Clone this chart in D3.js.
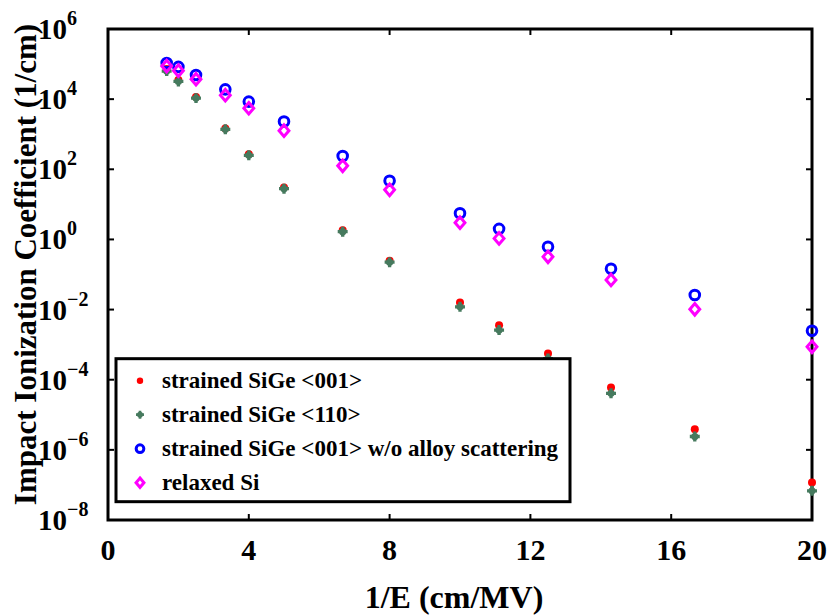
<!DOCTYPE html>
<html>
<head>
<meta charset="utf-8">
<script src="https://cdn.jsdelivr.net/npm/d3@7"></script>
<style>
  body { margin: 0; background: #fff; }
  svg { display: block; font-family: "Liberation Serif", "Times New Roman", serif; font-weight: bold; }
</style>
</head>
<body>
<svg width="830" height="615"></svg>
<script>
// 1/E values (cm/MV)
const invE = [1.667, 2, 2.5, 3.333, 4, 5, 6.667, 8, 10, 11.11, 12.5, 14.29, 16.67, 20]

// impact ionization coefficient (1/cm)
const sige001 = [7.2e4, 3.5e4, 1.15e4, 1.45e3, 267, 30, 1.82, 0.247, 0.0158, 3.6e-3, 5.6e-4, 6.0e-5, 3.9e-6, 1.17e-7]
const sige110 = [6.3e4, 3.2e4, 1.07e4, 1.38e3, 250, 28, 1.66, 0.224, 0.012, 2.6e-3, 4.0e-4, 4.1e-5, 2.4e-6, 6.8e-8]
const sige001NoAlloy = [1.07e5, 8.3e4, 4.9e4, 1.9e4, 8.5e3, 2.3e3, 240, 47, 5.6, 2.0, 0.62, 0.146, 0.026, 2.5e-3]
const relaxedSi = [8.8e4, 6.5e4, 3.7e4, 1.3e4, 5.5e3, 1.26e3, 126, 26, 3.0, 1.07, 0.32, 0.07, 0.0102, 8.7e-4]

const xTicks = [0, 4, 8, 12, 16, 20]
const yExps = [6, 4, 2, 0, -2, -4, -6, -8]

const seriesNames = ['strained SiGe <001>', 'strained SiGe <110>', 'strained SiGe <001> w/o alloy scattering', 'relaxed Si']

const svg = d3.select('svg')
const margin = {top: 29, right: 18, bottom: 95, left: 108}
const width = 830 - margin.left - margin.right
const height = 615 - margin.top - margin.bottom
const g = svg.append('g').attr('transform', 'translate(' + margin.left + ',' + margin.top + ')')

const x = d3.scaleLinear().domain([0, 20]).range([0, width])
const y = d3.scaleLog().domain([1e-8, 1e6]).range([height, 0])

// ticks (inward, all four sides)
const tickLen = 6
const axes = g.append('g').attr('stroke', '#000').attr('stroke-width', 2)
xTicks.slice(1, -1).forEach(t => {
  axes.append('line').attr('x1', x(t)).attr('x2', x(t)).attr('y1', height).attr('y2', height - tickLen)
  axes.append('line').attr('x1', x(t)).attr('x2', x(t)).attr('y1', 0).attr('y2', tickLen)
})
yExps.slice(1, -1).forEach(e => {
  const v = Math.pow(10, e)
  axes.append('line').attr('x1', 0).attr('x2', tickLen).attr('y1', y(v)).attr('y2', y(v))
  axes.append('line').attr('x1', width).attr('x2', width - tickLen).attr('y1', y(v)).attr('y2', y(v))
})

// frame
g.append('rect')
  .attr('width', width).attr('height', height)
  .attr('fill', 'none').attr('stroke', '#000').attr('stroke-width', 3)

// tick labels
g.append('g').selectAll('text')
  .data(xTicks)
  .enter().append('text')
    .attr('x', d => x(d))
    .attr('y', height + 40)
    .attr('text-anchor', 'middle')
    .attr('font-size', 30)
    .text(d => d)

const yLab = g.append('g').selectAll('text')
  .data(yExps)
  .enter().append('text')
    .attr('x', -70)
    .attr('y', d => y(Math.pow(10, d)) + 10)
    .attr('font-size', 29)
yLab.append('tspan').text('10')
yLab.append('tspan')
  .attr('font-size', 20)
  .attr('dy', -14)
  .text(d => d < 0 ? '\u2212' + (-d) : d)

// axis titles
svg.append('text')
  .attr('x', margin.left + width / 2 - 6)
  .attr('y', 608)
  .attr('text-anchor', 'middle')
  .attr('font-size', 32)
  .text('1/E (cm/MV)')

svg.append('text')
  .attr('transform', 'translate(36,' + (margin.top + height / 2 - 10) + ') rotate(-90)')
  .attr('text-anchor', 'middle')
  .attr('font-size', 31)
  .text('Impact Ionization Coefficient (1/cm)')

// markers
function drawMarker (sel, k, scale) {
  const s = scale || 1
  if (k === 0) {
    sel.append('circle').attr('r', 4 * s).attr('fill', '#ff0000')
  } else if (k === 1) {
    sel.append('circle').attr('r', 3.6 * s).attr('fill', '#467a5e')
    sel.append('path')
      .attr('d', d3.symbol().type(d3.symbolCross).size(55 * s * s)())
      .attr('fill', '#467a5e')
  } else if (k === 2) {
    sel.append('circle').attr('r', 4.8 * s).attr('fill', 'none')
      .attr('stroke', '#0000ff').attr('stroke-width', 3)
  } else {
    const r = 5.8 * s
    sel.append('path')
      .attr('d', 'M0,' + (-r) + 'L' + (r * 0.85) + ',0L0,' + r + 'L' + (-r * 0.85) + ',0Z')
      .attr('fill', 'none').attr('stroke', '#ff00ff').attr('stroke-width', 3)
  }
}

const allSeries = [sige001, sige110, sige001NoAlloy, relaxedSi]
allSeries.forEach((vals, k) => {
  g.append('g').selectAll('g')
    .data(vals)
    .enter().append('g')
      .attr('transform', (d, i) => 'translate(' + x(invE[i]) + ',' + y(d) + ')')
      .each(function () { drawMarker(d3.select(this), k) })
})

// legend
const legend = g.append('g').attr('transform', 'translate(8,' + (y(Math.pow(10, -3.6)) - 7) + ')')
legend.append('rect')
  .attr('width', 454).attr('height', 143)
  .attr('fill', '#fff').attr('stroke', '#000').attr('stroke-width', 3)

const legendEnter = legend.selectAll('g.item')
  .data(seriesNames)
  .enter().append('g')
    .attr('class', 'item')
    .attr('transform', (d, i) => 'translate(0,' + (22 + i * 34) + ')')

legendEnter.each(function (d, i) {
  const m = d3.select(this).append('g').attr('transform', 'translate(24,0)')
  drawMarker(m, i, 0.8)
})

legendEnter.append('text')
  .attr('x', 46)
  .attr('dy', '0.33em')
  .attr('font-size', 23)
  .text(d => d)
</script>
</body>
</html>
